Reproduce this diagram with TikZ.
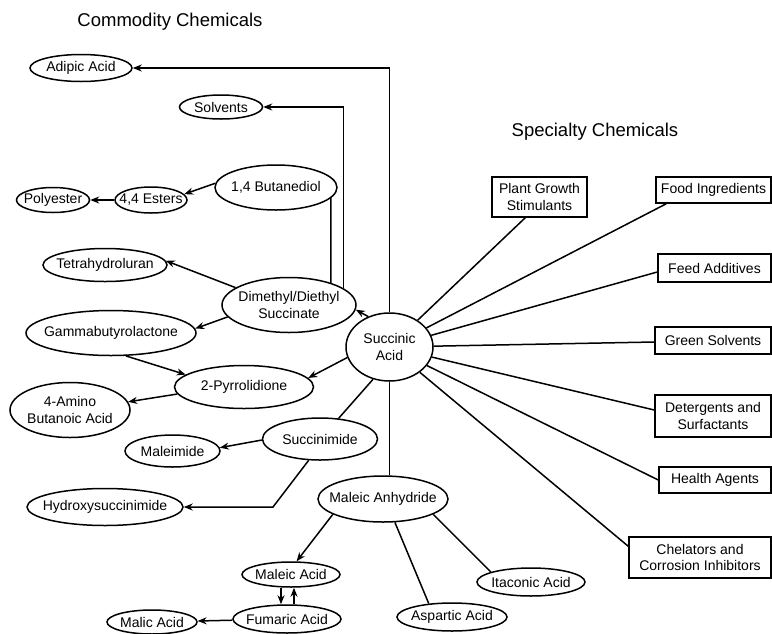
\documentclass[tikz,border=0pt]{standalone}
\usepackage{fontspec}
\setmainfont{Liberation Sans}
\usetikzlibrary{shapes.geometric,arrows.meta,calc}
\newcommand\lblfont{\fontsize{14}{16.5}\selectfont}
\newcommand\ttlfont{\fontsize{18.5}{22}\selectfont}
\begin{document}
\begin{tikzpicture}[x=1pt,y=-1pt, line width=1.5pt,
  el/.style n args={2}{draw, ellipse, inner sep=0pt, minimum width=#1, minimum height=#2},
  bx/.style n args={2}{draw, rectangle, inner sep=0pt, minimum width=#1, minimum height=#2, font=\lblfont, align=center},
  every label/.style={font=\lblfont, align=center, inner sep=0pt},
  arr/.style={-{Stealth[length=9pt,width=7pt]}},
  ttl/.style={font=\ttlfont, inner sep=0pt}]
\useasboundingbox (0,0) rectangle (772,633);
% titles
\node[ttl] (tcomm) at (170,22) {Commodity Chemicals};
\node[ttl] (tspec) at (595,132) {Specialty Chemicals};
% ellipses
\node[el={102}{27}, label=center:{Adipic Acid}] (adipic) at (81,68) {};
\node[el={83}{24}, label=center:{Solvents}] (solv) at (221,107) {};
\node[el={122}{45}, label=center:{1,4 Butanediol}] (bdo) at (276,187.5) {};
\node[el={72}{26}, label=center:{4,4 Esters}] (est) at (151,200) {};
\node[el={73}{25}, label=center:{Polyester}] (poly) at (53,200) {};
\node[el={124}{33}, label=center:{Tetrahydroluran}] (thf) at (105,265) {};
\node[el={134}{55}, label=center:{Dimethyl/Diethyl\\Succinate}] (dds) at (289,305) {};
\node[el={170}{45}, label=center:{Gammabutyrolactone}] (gbl) at (111,333) {};
\node[el={87}{68}, label=center:{Succinic\\Acid}] (succ) at (389.5,347) {};
\node[el={139}{43}, label=center:{2-Pyrrolidione}] (pyr) at (244,387) {};
\node[el={120}{55}, label=center:{4-Amino\\Butanoic Acid}] (amino) at (70,410) {};
\node[el={115}{42}, label=center:{Succinimide}] (sim) at (320,439) {};
\node[el={95}{32}, label=center:{Maleimide}] (mal) at (172.5,451) {};
\node[el={156}{37}, label=center:{Hydroxysuccinimide}] (hyd) at (105,507) {};
\node[el={130}{46}, label=center:{Maleic Anhydride}] (ma) at (383,499) {};
\node[el={98}{25}, label=center:{Maleic Acid}] (macid) at (291,574.5) {};
\node[el={108}{28}, label=center:{Fumaric Acid}] (fum) at (287,619) {};
\node[el={90}{24}, label=center:{Malic Acid}] (malic) at (152,622) {};
\node[el={110}{28}, label=center:{Aspartic Acid}] (asp) at (452,617) {};
\node[el={108}{28}, label=center:{Itaconic Acid}] (ita) at (531,582) {};
% boxes
\node[bx={95}{40}] (plant) at (539.5,197) {Plant Growth\\Stimulants};
\node[bx={115}{26}] (food) at (713.5,190) {Food Ingredients};
\node[bx={113}{28}] (feed) at (714.5,268) {Feed Additives};
\node[bx={116}{27}] (green) at (713,340.5) {Green Solvents};
\node[bx={116}{42}] (det) at (713,416) {Detergents and\\Surfactants};
\node[bx={112}{26}] (health) at (715,480) {Health Agents};
\node[bx={142}{41}] (chel) at (700,557.5) {Chelators and\\Corrosion Inhibitors};
% commodity connectors
\draw[arr] (succ.north) |- (adipic);
\draw[arr] (dds.17) |- (solv);
\draw (bdo.-11) -- (dds.28);
\draw[arr] (bdo.176) -- (est.10);
\draw[arr] (est) -- (poly);
\draw[arr] (succ.125) -- (dds.-4);
\draw[arr] (dds.162) -- (thf.4);
\draw[arr] (dds.191) -- (gbl.3);
\draw[arr] (gbl.-57) -- (pyr.168);
\draw[arr] (succ.194) -- (pyr.8);
\draw[arr] (pyr.186) -- (amino.8);
\draw (succ.243) -- (sim.48);
\draw[arr] (sim.181) -- (mal.4);
\coordinate (hc) at (273,507);
\draw[arr] (sim.242) -- (hc) -- (hyd);
\draw (succ.south) -- (succ.south |- ma.north);
\draw[arr] (ma.197) -- (macid.67);
\draw[arr] ([xshift=-10pt]macid.south) -- ([xshift=-10pt]macid.south |- fum.north);
\draw[arr] ([xshift=7pt]fum.north) -- ([xshift=7pt]fum.north |- macid.south);
\draw[arr] (fum) -- (malic);
\draw (ma.-63) -- (asp.150);
\draw (ma.-17) -- (ita.166);
% specialty spokes
\draw (succ) -- ([xshift=34pt]plant.south west);
\draw (succ) -- ([xshift=11pt]food.south west);
\draw (succ) -- ([yshift=-4pt]feed.west);
\draw (succ) -- ([yshift=-1.5pt]green.west);
\draw (succ) -- ([yshift=6pt]det.west);
\draw (succ) -- (health.west);
\draw (succ) -- ([yshift=-10pt]chel.north west);
\end{tikzpicture}
\end{document}
